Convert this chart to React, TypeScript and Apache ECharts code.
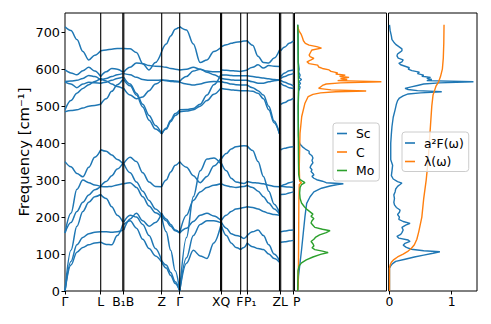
import React, { useEffect, useRef } from 'react';
import * as echarts from 'echarts';

const FONT = 'DejaVu Sans';
const BLUE = '#1f77b4';
const ORANGE = '#ff7f0e';
const GREEN = '#2ca02c';

// high-symmetry path (k-distance units)
const kTickPos = [0, 35.7, 58.3, 96.7, 114.7, 156.1, 175.7, 182.3, 215.1, 228.3];
const kTickLabels = ['Γ', 'L', 'B₁B', 'Z', 'Γ', 'XQ', 'F', 'P₁', 'ZL', 'P'];
const kLinePos = [35.7, 57.8, 58.8, 96.7, 114.7, 155.6, 156.6, 175.7, 182.3, 214.5, 215.7];
const freqTicks = [0, 100, 200, 300, 400, 500, 600, 700];
const lambdaTicks = [0, 1];

// band frequencies (cm^-1) sampled evenly along each segment
const bandsGL = [
  [715, 705, 680, 648, 625, 638, 650],
  [598, 590, 585, 596, 605, 595, 580],
  [567, 568, 570, 575, 583, 580, 570],
  [565, 560, 550, 560, 565, 563, 562],
  [490, 515, 535, 548, 558, 567, 575],
  [485, 488, 490, 495, 500, 502, 505],
  [350, 336, 318, 309, 335, 362, 382],
  [157, 210, 275, 300, 293, 287, 283],
  [157, 185, 215, 240, 260, 274, 283],
  [0, 110, 175, 215, 240, 255, 261],
  [0, 80, 125, 145, 155, 159, 160],
  [0, 70, 105, 118, 125, 130, 132],
];
const bandsLB1 = [
  [650, 652, 654, 656, 656],
  [580, 593, 602, 600, 592],
  [570, 575, 580, 585, 588],
  [562, 565, 570, 575, 578],
  [575, 568, 560, 553, 548],
  [505, 520, 540, 558, 572],
  [382, 378, 368, 356, 345],
  [283, 296, 312, 330, 345],
  [283, 282, 283, 287, 290],
  [261, 250, 228, 205, 187],
  [160, 160, 159, 160, 165],
  [132, 126, 125, 150, 180],
];
const bandsBZ = [
  [656, 655, 645, 615, 598, 618, 648],
  [592, 605, 617, 615, 610, 608, 607],
  [588, 585, 578, 572, 570, 570, 571],
  [578, 560, 535, 505, 475, 448, 425],
  [548, 530, 520, 525, 542, 560, 571],
  [572, 555, 530, 498, 462, 438, 425],
  [345, 362, 350, 320, 295, 283, 282],
  [345, 320, 295, 270, 245, 222, 205],
  [290, 293, 280, 255, 230, 212, 201],
  [187, 205, 200, 180, 150, 115, 82],
  [165, 195, 210, 190, 175, 185, 210],
  [180, 190, 170, 140, 115, 95, 78],
];
const bandsZG = [
  [648, 668, 690, 708, 715],
  [607, 605, 602, 600, 598],
  [571, 570, 569, 568, 567],
  [425, 440, 462, 480, 490],
  [571, 569, 567, 566, 565],
  [425, 438, 458, 475, 485],
  [282, 300, 322, 340, 350],
  [205, 190, 175, 163, 157],
  [201, 160, 110, 55, 0],
  [82, 70, 50, 25, 0],
  [210, 195, 180, 165, 157],
  [78, 62, 42, 20, 0],
];
const bandsGX = [
  [715, 706, 668, 618, 625, 648, 658],
  [598, 600, 605, 600, 595, 593, 593],
  [567, 580, 595, 600, 592, 585, 575],
  [565, 560, 557, 560, 565, 567, 566],
  [490, 491, 494, 505, 530, 558, 584],
  [485, 487, 490, 500, 515, 532, 548],
  [350, 335, 312, 293, 310, 338, 358],
  [0, 145, 255, 325, 357, 360, 345],
  [157, 205, 245, 268, 280, 286, 290],
  [157, 170, 188, 205, 210, 203, 192],
  [0, 90, 150, 180, 190, 190, 185],
  [0, 75, 110, 95, 88, 130, 175],
];
const bandsQF = [
  [661, 666, 670, 673, 674],
  [598, 597, 596, 595, 594],
  [584, 584, 583, 582, 582],
  [575, 573, 571, 570, 570],
  [566, 563, 560, 558, 557],
  [548, 546, 544, 543, 542],
  [358, 372, 384, 390, 392],
  [345, 325, 305, 295, 292],
  [290, 285, 282, 280, 282],
  [192, 205, 215, 222, 224],
  [185, 170, 155, 150, 147],
  [175, 150, 130, 118, 112],
];
const bandsFP1 = [
  [674, 676, 677],
  [594, 596, 598],
  [582, 582, 582],
  [570, 570, 570],
  [557, 557, 557],
  [542, 542, 542],
  [392, 393, 392],
  [292, 291, 296],
  [282, 283, 286],
  [224, 226, 228],
  [147, 142, 150],
  [112, 118, 130],
];
const bandsP1Z = [
  [677, 665, 635, 618, 617, 630, 652],
  [598, 605, 612, 603, 610, 608, 607],
  [582, 580, 578, 576, 574, 572, 571],
  [570, 566, 562, 562, 566, 569, 571],
  [557, 550, 542, 530, 500, 460, 425],
  [542, 540, 535, 520, 490, 455, 425],
  [392, 380, 350, 310, 270, 235, 212],
  [296, 293, 292, 290, 286, 283, 282],
  [286, 280, 270, 255, 238, 222, 208],
  [228, 226, 222, 215, 210, 207, 205],
  [150, 160, 165, 150, 125, 100, 82],
  [130, 120, 115, 112, 100, 88, 78],
];
const bandsLP = [
  [650, 660, 670, 676],
  [580, 590, 596, 598],
  [575, 580, 585, 588],
  [570, 565, 560, 555],
  [562, 555, 550, 548],
  [505, 510, 516, 521],
  [382, 386, 389, 390],
  [283, 288, 293, 296],
  [283, 282, 281, 280],
  [261, 262, 265, 268],
  [160, 162, 164, 165],
  [132, 133, 135, 137],
];

const segments = [
  { from: 0, to: 35.7, bands: bandsGL },
  { from: 35.7, to: 57.8, bands: bandsLB1 },
  { from: 58.8, to: 96.7, bands: bandsBZ },
  { from: 96.7, to: 114.7, bands: bandsZG },
  { from: 114.7, to: 155.6, bands: bandsGX },
  { from: 156.6, to: 175.7, bands: bandsQF },
  { from: 175.7, to: 182.3, bands: bandsFP1 },
  { from: 182.3, to: 214.5, bands: bandsP1Z },
  { from: 215.7, to: 228.3, bands: bandsLP },
];

// projected phonon DOS: [frequency, DOS]
const dosSc = [[0,0],[40,0.8],[75,2.4],[111,4],[156,5.8],[201,7.6],[237,9.4],[255,13],[268,17],[278,25],[284,34],[288,42],[290,48],[293,30],[297,26],[301,20],[305,17],[310,15],[314,17],[318,16],[323,14],[328,15],[334,13],[340,14],[347,16],[353,15],[360,16],[366,15],[372,12],[378,12],[384,8],[390,5],[397,2.5],[405,1.2],[420,0.8],[460,0.6],[500,0.5],[540,1],[552,2.5],[556,1],[562,3],[566,1],[572,4],[577,1.5],[584,2.5],[592,1],[600,1.5],[620,0.5],[680,0.3],[720,0]];
const dosC = [[0,0],[20,0.5],[80,0.8],[160,1],[250,1.2],[288,1.6],[293,4],[297,2],[336,1.6],[381,2],[426,2.4],[472,4.2],[508,7.6],[526,11],[532,16],[536,24],[539,40],[541,72],[544,35],[548,22],[552,24],[556,26],[560,30],[563,45],[566,88],[569,42],[572,52],[575,45],[578,54],[581,44],[584,50],[587,40],[590,42],[594,35],[598,33],[602,26],[606,22],[611,21],[615,12],[620,9.7],[625,14],[629,17],[634,13],[638,12],[643,13],[648,14],[652,15],[657,25],[661,20],[665,12],[670,8],[677,6],[685,5],[695,3.5],[703,1.5],[710,0.5],[715,0]];
const dosMo = [[0,0],[55,0.3],[68,1.5],[76,4],[84,9],[92,16],[99,24],[104,32],[108,26],[112,18],[117,15],[122,17],[128,16],[134,14],[140,17],[146,19],[152,23],[158,30],[163,34],[167,26],[172,18],[178,16],[184,14],[190,15],[196,17],[202,14],[208,16],[214,13],[220,10],[228,7],[238,4],[250,2.5],[265,2],[280,2.5],[288,4],[293,7.6],[297,5],[302,2],[315,1],[350,0.8],[420,0.6],[500,0.5],[560,0.8],[600,0.5],[660,0.4],[700,0.3],[720,0]];

// Eliashberg function and cumulative coupling: [frequency, value]
const a2F = [[0,0],[62,0],[68,0.02],[74,0.05],[80,0.1],[86,0.25],[92,0.4],[97,0.55],[102,0.7],[106,0.81],[109,0.55],[113,0.35],[118,0.27],[124,0.22],[129,0.25],[134,0.33],[138,0.3],[143,0.15],[148,0.12],[153,0.18],[158,0.2],[165,0.22],[172,0.2],[178,0.26],[183,0.33],[188,0.22],[194,0.15],[200,0.16],[207,0.13],[213,0.16],[219,0.17],[226,0.11],[233,0.08],[240,0.07],[250,0.08],[260,0.07],[268,0.09],[276,0.1],[283,0.13],[288,0.17],[292,0.2],[296,0.13],[303,0.06],[312,0.03],[325,0.04],[340,0.05],[355,0.02],[380,0.02],[400,0.02],[425,0.03],[445,0.04],[470,0.06],[490,0.09],[505,0.11],[515,0.13],[522,0.16],[528,0.22],[533,0.3],[536,0.5],[539,0.84],[542,0.45],[545,0.3],[548,0.25],[552,0.35],[556,0.45],[560,0.55],[563,0.8],[566,1.35],[569,0.6],[572,0.68],[575,0.6],[578,0.66],[581,0.52],[584,0.55],[588,0.45],[592,0.48],[596,0.36],[600,0.3],[604,0.32],[608,0.25],[612,0.18],[616,0.15],[620,0.2],[625,0.22],[630,0.14],[636,0.12],[641,0.13],[646,0.17],[650,0.2],[655,0.2],[661,0.15],[667,0.1],[673,0.07],[680,0.04],[690,0.03],[705,0.01],[720,0]];
const lambda = [[0,0],[62,0],[70,0.01],[78,0.03],[85,0.07],[92,0.13],[100,0.22],[108,0.3],[115,0.35],[125,0.4],[140,0.44],[160,0.47],[200,0.52],[250,0.55],[300,0.59],[350,0.62],[400,0.64],[450,0.66],[500,0.68],[530,0.7],[540,0.72],[555,0.75],[566,0.79],[580,0.82],[600,0.85],[630,0.865],[670,0.873],[720,0.877]];

const Y_MAX = 752;
const txt = { fontFamily: FONT, fontSize: 12.4, color: '#000' };

function buildOption() {
  const series: any[] = [];
  segments.forEach((seg) => {
    seg.bands.forEach((band) => {
      const n = band.length;
      series.push({
        type: 'line', xAxisIndex: 0, yAxisIndex: 0, silent: true,
        showSymbol: false, smooth: 0.35, smoothMonotone: 'x',
        lineStyle: { color: BLUE, width: 1.5 }, itemStyle: { color: BLUE },
        data: band.map((f, i) => [seg.from + ((seg.to - seg.from) * i) / (n - 1), f]),
      });
    });
  });
  kLinePos.forEach((x) => {
    series.push({
      type: 'line', xAxisIndex: 0, yAxisIndex: 0, silent: true, showSymbol: false,
      lineStyle: { color: '#000', width: 1.1 }, itemStyle: { color: '#000' },
      data: [[x, 0], [x, Y_MAX]],
    });
  });
  const dosSeries = [
    { name: 'Sc', data: dosSc, color: BLUE },
    { name: 'C', data: dosC, color: ORANGE },
    { name: 'Mo', data: dosMo, color: GREEN },
  ];
  dosSeries.forEach((d) => {
    series.push({
      name: d.name, type: 'line', xAxisIndex: 1, yAxisIndex: 1, silent: true, showSymbol: false,
      lineStyle: { color: d.color, width: 1.4 }, itemStyle: { color: d.color },
      data: d.data.map(([f, v]) => [v, f]),
    });
  });
  const elSeries = [
    { name: 'a²F(ω)', data: a2F, color: BLUE },
    { name: 'λ(ω)', data: lambda, color: ORANGE },
  ];
  elSeries.forEach((d) => {
    series.push({
      name: d.name, type: 'line', xAxisIndex: 2, yAxisIndex: 2, silent: true, showSymbol: false,
      lineStyle: { color: d.color, width: 1.4 }, itemStyle: { color: d.color },
      data: d.data.map(([f, v]) => [v, f]),
    });
  });

  const legendCommon = {
    orient: 'vertical', icon: 'rect', itemWidth: 10, itemHeight: 1.6, itemGap: 4.5,
    selectedMode: false,
    textStyle: { ...txt, lineHeight: 14, padding: [0, 0, 0, 4] },
    backgroundColor: 'rgba(255,255,255,0.8)', borderColor: '#cccccc', borderWidth: 1, borderRadius: 3,
  };

  const lastIdx = kTickPos.length - 1;
  const fIdx = kTickLabels.indexOf('F');
  const p1Idx = kTickLabels.indexOf('P₁');

  return {
    animation: false,
    backgroundColor: '#ffffff',
    grid: [
      { left: 65, top: 13, width: 228.3, height: 278, show: true, borderColor: '#000', borderWidth: 1 },
      { left: 294.5, top: 13, width: 92, height: 278, show: true, borderColor: '#000', borderWidth: 1 },
      { left: 388.5, top: 13, width: 88.5, height: 278, show: true, borderColor: '#000', borderWidth: 1 },
    ],
    legend: [
      { ...legendCommon, left: 333, top: 123, padding: [3.5, 5, 3.5, 4], data: ['Sc', 'C', 'Mo'] },
      { ...legendCommon, left: 402, top: 132, padding: [4, 5, 3, 3], data: ['a²F(ω)', 'λ(ω)'] },
    ],
    xAxis: [
      {
        gridIndex: 0, type: 'value', min: 0, max: 228.3,
        axisLine: { show: false }, splitLine: { show: false },
        axisTick: { show: true, customValues: kTickPos, length: 3.5, lineStyle: { color: '#000', width: 1 } },
        axisLabel: {
          show: true, customValues: kTickPos, margin: 4, showMinLabel: true, showMaxLabel: true, hideOverlap: false,
          ...txt,
          formatter: (v: number) => {
            const i = kTickPos.findIndex((p) => Math.abs(p - v) < 0.01);
            if (i < 0) return '';
            if (i === lastIdx) return '{p|' + kTickLabels[i] + '}';
            if (i === fIdx) return '{f|' + kTickLabels[i] + '}';
            if (i === p1Idx) return '{q|' + kTickLabels[i] + '}';
            return kTickLabels[i];
          },
          rich: {
            p: { ...txt, padding: [0, 0, 0, 7] },
            f: { ...txt, padding: [0, 2, 0, 0] },
            q: { ...txt, padding: [0, 0, 0, 6] },
          },
        },
      },
      { gridIndex: 1, type: 'value', min: -3.4, max: 93.4, show: false },
      {
        gridIndex: 2, type: 'value', min: -0.016, max: 1.407,
        axisLine: { show: false }, splitLine: { show: false },
        axisTick: { show: true, customValues: lambdaTicks, length: 3.5, lineStyle: { color: '#000', width: 1 } },
        axisLabel: { show: true, customValues: lambdaTicks, margin: 4, ...txt, formatter: (v: number) => String(Math.round(v)) },
      },
    ],
    yAxis: [
      {
        gridIndex: 0, type: 'value', min: 0, max: Y_MAX,
        name: 'Frequency [cm⁻¹]', nameLocation: 'middle', nameGap: 34, nameRotate: 90,
        nameTextStyle: { fontFamily: FONT, fontSize: 14.8, color: '#000' },
        axisLine: { show: false }, splitLine: { show: false },
        axisTick: { show: true, customValues: freqTicks, length: 3.5, lineStyle: { color: '#000', width: 1 } },
        axisLabel: { show: true, customValues: freqTicks, margin: 5, ...txt, fontSize: 12.8 },
      },
      { gridIndex: 1, type: 'value', min: 0, max: Y_MAX, show: false },
      { gridIndex: 2, type: 'value', min: 0, max: Y_MAX, show: false },
    ],
    series,
  };
}

export default function App() {
  const ref = useRef<HTMLDivElement>(null);
  useEffect(() => {
    const chart = echarts.init(ref.current!, null, { renderer: 'svg' });
    chart.setOption(buildOption() as any);
    return () => chart.dispose();
  }, []);
  return (
    <div
      ref={ref}
      style={{ position: 'fixed', left: 0, top: 0, width: 491, height: 324, background: '#fff' }}
    />
  );
}
